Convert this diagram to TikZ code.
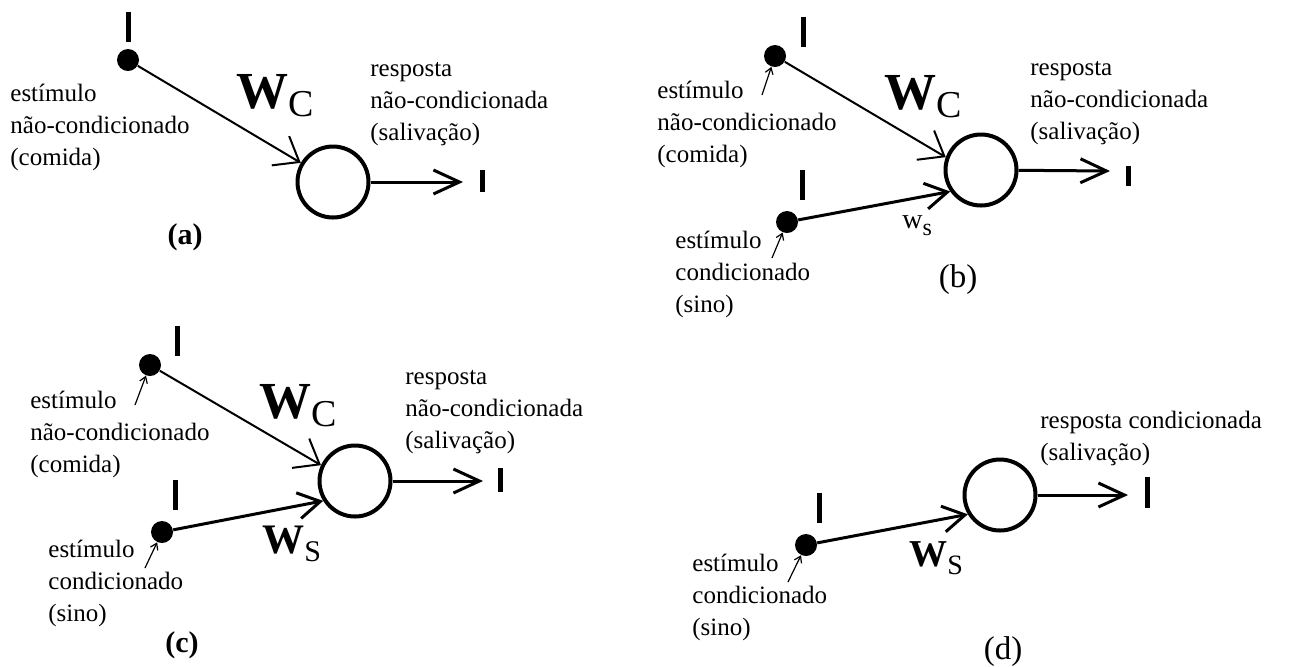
\documentclass[tikz,border=0pt]{standalone}
\usepackage{fontspec}
\setmainfont{Liberation Serif}
\usetikzlibrary{arrows.meta}
\newcommand{\wlab}[3]{{\fontsize{#1}{#1}\selectfont\bfseries W}\raisebox{-4pt}{\fontsize{#2}{#2}\selectfont #3}}
\begin{document}
\begin{tikzpicture}[x=0.5pt,y=-0.5pt,
  neuron/.style={draw,circle,line width=2pt,minimum size=35.5pt,inner sep=0pt},
  stimdot/.style={fill,circle,minimum size=11pt,inner sep=0pt},
  spike/.style={fill,rectangle,minimum width=2.5pt,minimum height=15pt,inner sep=0pt},
  inthin/.style={line width=1pt,-{Straight Barb[length=11pt,width=17pt]}},
  inthick/.style={line width=1.5pt,-{Straight Barb[length=11pt,width=13pt]}},
  outarrow/.style={line width=1.5pt,-{Straight Barb[length=13pt,width=12pt]}},
  pointer/.style={line width=0.6pt,-{Straight Barb[length=3pt,width=4pt]}},
  txt/.style={anchor=north west,inner sep=0pt,align=left,font=\fontsize{12.5}{16}\selectfont},
  wnode/.style={anchor=base west,inner sep=0pt},
  boldpanel/.style={font=\fontsize{15}{18}\selectfont\bfseries},
  panel/.style={font=\fontsize{16.5}{18}\selectfont}]
\useasboundingbox (0,0) rectangle (1290,666);

\node[spike] (ta) at (128,27) {};
\node[stimdot] (ua) at (128,60) {};
\node[neuron] (na) at (333,182) {};
\coordinate (ra) at (463,182);
\node[spike,minimum height=11pt] (oa) at (482,181) {};
\draw[inthin] (ua) -- (na);
\draw[outarrow] (na) -- (ra);
\node[txt] (la) at (10,84) {estímulo\\não-condicionado\\(comida)};
\node[txt] (ka) at (370,62) {resposta\\não-condicionada\\(salivação)};
\node[wnode] (wa) at (236,108) {\wlab{26}{19}{C}};
\node[boldpanel] (pa) at (185,237) {(a)};

\node[spike] (tb) at (803,32) {};
\node[stimdot] (ub) at (775,56) {};
\node[neuron] (nb) at (981,170) {};
\coordinate (qb) at (762,95);
\draw[inthin] (ub) -- (nb.160);
\draw[pointer] (qb) -- (ub);
\node[txt] (lb) at (657,81) {estímulo\\não-condicionado\\(comida)};
\node[wnode] (wb) at (884,109) {\wlab{26}{19}{C}};
\node[spike] (sb) at (802,185) {};
\node[stimdot] (vb) at (787,222) {};
\coordinate (pb) at (772,258);
\draw[inthick] (vb) -- (nb.215);
\draw[pointer] (pb) -- (vb);
\node[wnode] (xb) at (902,228) {{\fontsize{14}{14}\selectfont w}\raisebox{-3.5pt}{\fontsize{12}{12}\selectfont s}};
\node[txt] (mb) at (675,231) {estímulo\\condicionado\\(sino)};
\coordinate (rb) at (1110,171);
\node[spike,minimum height=10pt] (ob) at (1128,176) {};
\draw[outarrow] (nb) -- (rb);
\node[txt] (kb) at (1030,61) {resposta\\não-condicionada\\(salivação)};
\node[panel] (pb2) at (958,280) {(b)};

\node[spike] (tc) at (177,341) {};
\node[stimdot] (uc) at (150,365) {};
\node[neuron] (nc) at (355,481) {};
\coordinate (qc) at (135,405);
\draw[inthin] (uc) -- (nc.155);
\draw[pointer] (qc) -- (uc);
\node[txt] (lc) at (30,391) {estímulo\\não-condicionado\\(comida)};
\node[wnode] (wc) at (259,418) {\wlab{26}{19}{C}};
\node[spike] (sc) at (175,495) {};
\node[stimdot] (vc) at (162,532) {};
\coordinate (pc) at (145,568);
\draw[inthick] (vc) -- (nc.212);
\draw[pointer] (pc) -- (vc);
\node[wnode] (xc) at (262,553) {\wlab{21}{15}{S}};
\node[txt] (mc) at (48,540) {estímulo\\condicionado\\(sino)};
\coordinate (rc) at (483,481);
\node[spike,minimum height=12pt] (oc) at (500,480) {};
\draw[outarrow] (nc) -- (rc);
\node[txt] (kc) at (405,370) {resposta\\não-condicionada\\(salivação)};
\node[boldpanel] (pc2) at (182,645) {(c)};

\node[neuron] (nd) at (1000,495) {};
\node[spike] (sd) at (819,508) {};
\node[stimdot] (vd) at (806,545) {};
\coordinate (pd) at (788,582);
\draw[inthick] (vd) -- (nd.211);
\draw[pointer] (pd) -- (vd);
\node[wnode] (xd) at (909,566) {\wlab{19}{14}{S}};
\node[txt] (md) at (692,554) {estímulo\\condicionado\\(sino)};
\coordinate (rd) at (1128,495);
\node[spike,minimum height=15.5pt] (od) at (1147,492) {};
\draw[outarrow] (nd) -- (rd);
\node[txt] (kd) at (1040,411) {resposta condicionada\\(salivação)};
\node[panel] (pd2) at (1003,652) {(d)};
\end{tikzpicture}
\end{document}
